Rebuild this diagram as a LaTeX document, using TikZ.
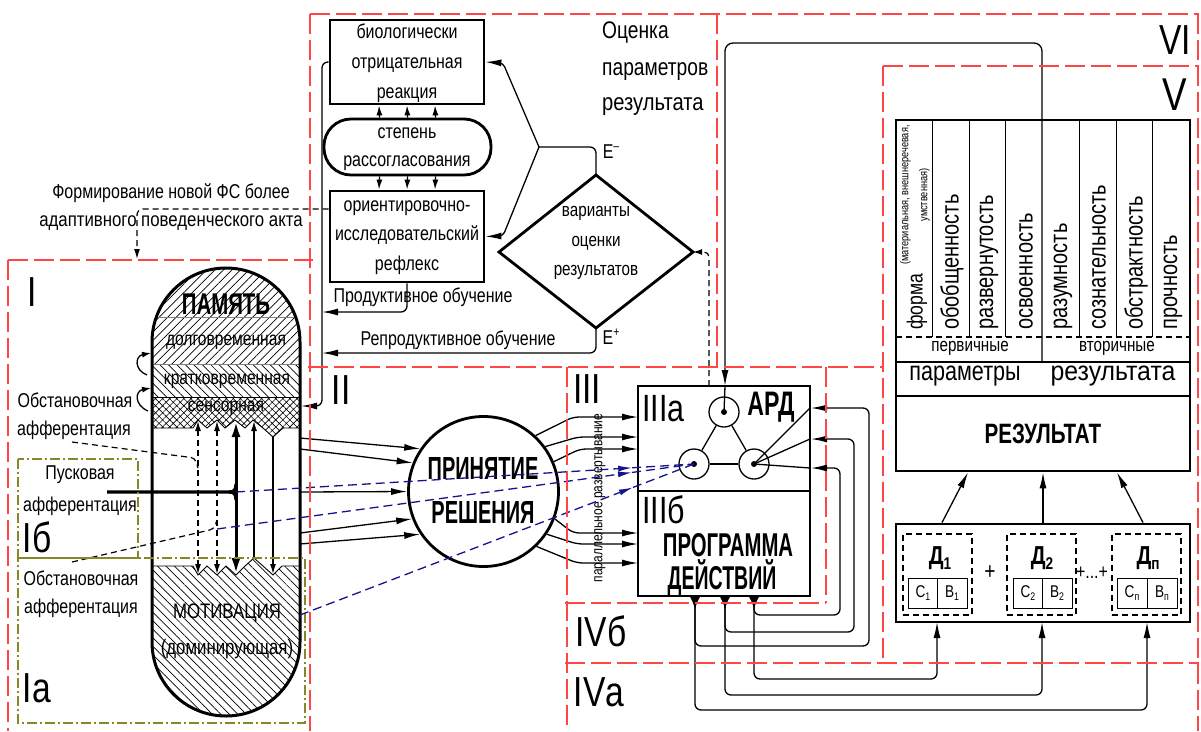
\documentclass[tikz,border=0pt]{standalone}
\usepackage{fontspec}
\setmainfont{Liberation Sans}[FakeStretch=0.8]
\usetikzlibrary{arrows.meta,patterns.meta,calc}
\definecolor{zred}{RGB}{255,70,70}
\definecolor{zblue}{RGB}{20,20,140}
\definecolor{zolive}{RGB}{135,135,40}
\newcommand\hs[2]{\scalebox{#1}[1]{#2}}
\newcommand\fsz[1]{\fontsize{#1}{#1}\selectfont}
\newcommand\fsl[2]{\fontsize{#1}{#2}\selectfont}
\begin{document}
\begin{tikzpicture}[x=1pt,y=-1pt,
  >={Latex[length=16pt,width=7pt]},
  norm/.style={line width=1.3pt},
  fine/.style={line width=0.9pt},
  heavy/.style={line width=2.8pt},
  zone/.style={draw=zred,line width=1.1pt,dash pattern=on 20pt off 6pt},
  olv/.style={draw=zolive,line width=1.3pt,dash pattern=on 10pt off 3pt on 2pt off 3pt},
  bdash/.style={draw=zblue,line width=1.3pt,dash pattern=on 9pt off 5pt},
  kdash/.style={line width=1.2pt,dash pattern=on 6pt off 4pt},
  smallarr/.style={>={Latex[length=10pt,width=6pt]}},
  lb/.style={inner sep=0pt,font=\fsz{20}},
  rom/.style={inner sep=0pt,font=\fsz{42}},
  box/.style={draw,line width=2.8pt,inner sep=0pt},
  vtxt/.style={inner sep=0pt,font=\fsz{25},rotate=90,anchor=west},
]
\useasboundingbox (0,0) rectangle (1201,731);
\fill[white] (0,0) rectangle (1201,731);

% ================= capsule (memory / motivation)
\def\capsule{(152,342) .. controls (152,301.1) and (185.1,268) .. (226,268) .. controls (266.9,268) and (300,301.1) .. (300,342) -- (300,642) .. controls (300,682.9) and (266.9,716) .. (226,716) .. controls (185.1,716) and (152,682.9) .. (152,642) -- cycle}
\begin{scope}
\clip \capsule;
\fill[pattern={Lines[angle=45,distance=6pt,line width=0.7pt]}] (140,260) rectangle (310,364);
\fill[pattern={Lines[angle=-45,distance=6pt,line width=0.7pt]}] (140,364) rectangle (310,397);
\fill[pattern={Hatch[angle=45,distance=5pt,line width=0.6pt]}] (140,397) -- (310,397) -- (310,428) -- (283,428) -- (273,437) -- (263,428) -- (253,420) -- (245,428) -- (235,420) -- (225,428) -- (217,420) -- (207,428) -- (198,420) -- (193,428) -- (140,428) -- cycle;
\fill[pattern={Lines[angle=-45,distance=6pt,line width=0.7pt]}] (140,566) -- (193,566) -- (198,575) -- (207,566) -- (217,575) -- (226,566) -- (236,575) -- (245,566) -- (254,558) -- (263,566) -- (273,575) -- (282,566) -- (310,566) -- (310,730) -- (140,730) -- cycle;
\draw[fine,gray] (140,317) -- (310,317);
\draw[fine,gray] (140,364) -- (310,364);
\draw[fine] (140,397) -- (310,397);
\draw[fine] (140,428) -- (193,428) -- (198,420) -- (207,428) -- (217,420) -- (225,428) -- (235,420) -- (245,428) -- (253,420) -- (263,428) -- (273,437) -- (283,428) -- (310,428);
\draw[fine] (140,566) -- (193,566) -- (198,575) -- (207,566) -- (217,575) -- (226,566) -- (236,575) -- (245,566) -- (254,558) -- (263,566) -- (273,575) -- (282,566) -- (310,566);
\end{scope}
\draw[line width=3pt] \capsule;

\node[lb,font=\bfseries\fsz{30}] (pam) at (226,304) {\hs{0.85}{ПАМЯТЬ}};
\node[lb,font=\fsz{19.5}] (dolg) at (226,342) {долговременная};
\node[lb,font=\fsz{19.5}] (krat) at (227,381) {кратковременная};
\node[lb,font=\fsz{19.5}] (sens) at (226,408) {сенсорная};
\node[lb,font=\fsz{21}] (motiv) at (227,613) {МОТИВАЦИЯ};
\node[lb,font=\fsz{21}] (domin) at (227,649) {(доминирующая)};

% inner arrows of the capsule
\draw[kdash,<->,smallarr] (198,421) -- (198,574);
\draw[kdash,<->,smallarr] (217,421) -- (217,574);
\draw[line width=3pt,<->,>={Latex[length=16pt,width=9pt]}] (236,421) -- (236,574);
\draw[norm,->,smallarr] (254,558) -- (254,421);
\draw[norm,->,smallarr] (273,437) -- (273,574);

% afferentations
\coordinate (ob1) at (72,442);
\coordinate (ob2) at (72,562);
\coordinate (pusk) at (107,492);
\draw[kdash,rounded corners=4pt] (ob1) -- (195,458) -- (198,468);
\draw[kdash,rounded corners=4pt] (ob2) -- (214,529) -- (217,520);
\draw[line width=3.2pt] (pusk) -- (229,492) .. controls (234,492) and (236,490) .. (236,484);
\draw[line width=3.2pt] (229,492) .. controls (234,492) and (236,494) .. (236,500);
\draw[norm,->,>={Latex[length=9pt,width=6pt]}] (147,375) .. controls (134,370) and (135,356) .. (151,353);
\draw[norm,->,>={Latex[length=9pt,width=6pt]}] (148,411) .. controls (134,405) and (135,391) .. (151,388);

% left labels
\node[lb] (f1) at (171,193) {Формирование новой ФС более};
\node[lb] (f2) at (171,223) {\hs{1.05}{адаптивного поведенческого акта}};
\node[rom] (rI) at (32,292) {I};
\node[lb] (obs1a) at (75,400) {Обстановочная};
\node[lb] (obs1b) at (74,430) {афферентация};
\node[lb] (pu1) at (80,475) {Пусковая};
\node[lb] (pu2) at (80,506) {афферентация};
\node[rom] (rIb) at (37,537) {Iб};
\node[lb] (obs2a) at (81,578) {Обстановочная};
\node[lb] (obs2b) at (81,608) {афферентация};
\node[rom] (rIa) at (37,688) {Iа};
\draw[olv] (18,459) rectangle (138,558);
\draw[olv] (18,558) -- (305,558) -- (305,723) -- (18,723) -- cycle;

% ================= evaluation block
\node[box,minimum width=154pt,minimum height=84pt] (bio) at (407,62) {};
\node[lb,align=center,font=\fsl{20}{30}] (biot) at (407,63) {биологически\\отрицательная\\реакция};
\node[box,rounded corners=27pt,minimum width=167pt,minimum height=56pt] (deg) at (407.5,147) {};
\node[lb,align=center,font=\fsl{20}{28}] (degt) at (407,149) {степень\\рассогласования};
\node[box,minimum width=154pt,minimum height=91pt] (ref) at (407,236.5) {};
\node[lb,align=center,font=\fsl{20}{29.5}] (reft) at (407,237.5) {ориентировочно-\\исследовательский\\рефлекс};
\foreach \dx in {-28,0,28}{
  \draw[norm,->,smallarr] ($(deg.north)+(\dx,0)$) -- ($(bio.south)+(\dx,0)$);
  \draw[norm,->,smallarr] ($(deg.south)+(\dx,0)$) -- ($(ref.north)+(\dx,0)$);
}
\coordinate (dT) at (596,175);
\coordinate (dL) at (499,252);
\coordinate (dR) at (693,252);
\coordinate (dB) at (596,328);
\draw[heavy,line join=miter] (dT) -- (dR) -- (dB) -- (dL) -- cycle;
\node[lb,align=center,font=\fsl{19}{29.5}] (diat) at (596,243) {варианты\\оценки\\результатов};
\node[lb] (em) at (611,152) {E\raisebox{8pt}{\fsz{13}–}};
\node[lb] (ep) at (611,337) {E\raisebox{8pt}{\fsz{13}+}};
\node[lb,anchor=west,font=\fsz{24}] (oc1) at (602,33) {Оценка};
\node[lb,anchor=west,font=\fsz{24}] (oc2) at (602,72) {параметров};
\node[lb,anchor=west,font=\fsz{24}] (oc3) at (602,107) {\hs{1.05}{результата}};
\coordinate (br) at (539,147);
\draw[norm,rounded corners=6pt] (dT) -- (596,147) -- (br);
\draw[norm,->,rounded corners=4pt] (br) -- (503,63) -- (bio.east);
\draw[norm,->,rounded corners=4pt] (br) -- (503,236) -- (ref.east);
\coordinate (fb) at (301,406);
\draw[norm,->,rounded corners=6pt] (bio.west) -- (322,62) -- (322,406) -- (fb);
\draw[norm,->,rounded corners=6pt] (ref.south) -- (407,312) -- (322,312);
\draw[norm,->,rounded corners=6pt] (dB) -- (596,353) -- (322,353);
\node[lb] (prod) at (423,297) {Продуктивное обучение};
\node[lb] (repr) at (458,340) {Репродуктивное обучение};
\draw[kdash,->,smallarr,rounded corners=6pt] (ref.west |- 0,209) -- (137,209) -- (137,259);

% ================= decision
\node[circle,draw,line width=2.8pt,minimum size=150pt,inner sep=0pt] (dec) at (483.5,491.5) {};
\node[lb,font=\bfseries\fsz{32}] (dec1) at (483,468) {\hs{0.78}{ПРИНЯТИЕ}};
\node[lb,font=\bfseries\fsz{32}] (dec2) at (483,512) {\hs{0.78}{РЕШЕНИЯ}};
\node[rom] (rII) at (341,390) {II};
\draw[norm,->] (300,438) -- (dec.146);
\draw[norm,->] (300,449) -- (dec.158);
\draw[norm,->] (300,492) -- (dec.180);
\draw[norm,->] (300,533) -- (dec.201);
\draw[norm,->] (300,544) -- (dec.214);

% ================= III : ARD and program
\node[box,minimum width=172pt,minimum height=105pt] (ard) at (724,438.5) {};
\node[box,minimum width=172pt,minimum height=105pt] (pd) at (724,543.5) {};
\node[rom] (rIII) at (587,389) {III};
\node[lb,anchor=west,font=\fsz{38}] (r3a) at (642,409) {IIIа};
\node[lb,anchor=west,font=\fsz{38}] (r3b) at (642,510) {IIIб};
\node[lb,font=\bfseries\fsz{34}] (ardt) at (771,407) {\hs{0.85}{АРД}};
\node[lb,font=\bfseries\fsz{33}] (pd1) at (728,545) {\hs{0.77}{ПРОГРАММА}};
\node[lb,font=\bfseries\fsz{33}] (pd2) at (722,578) {\hs{0.74}{ДЕЙСТВИЙ}};
\node[lb,font=\fsz{15},rotate=90] (par) at (600,498) {параллельное развертывание};
\node[circle,draw,norm,minimum size=30pt,inner sep=0pt] (cT) at (724,412) {};
\node[circle,draw,norm,minimum size=30pt,inner sep=0pt] (cL) at (694,464) {};
\node[circle,draw,norm,minimum size=30pt,inner sep=0pt] (cR) at (754,464) {};
\foreach \c in {cT,cL,cR} \fill (\c.center) circle (3pt);
\draw[norm] (cT) -- (cL);
\draw[norm] (cT) -- (cR);
\draw[norm] (cL) -- (cR);
\foreach \yy in {408,439,468} \draw[norm] (cR.center) -- (810,\yy);
% inputs from decision
\draw[norm,->,rounded corners=6pt] (dec.47) -- (573,417) -- (638,417);
\draw[norm,->,rounded corners=6pt] (dec.36) -- (578,437) -- (638,437);
\draw[norm,->,rounded corners=6pt] (dec.23) -- (580,449) -- (638,449);
\draw[norm,->,rounded corners=6pt] (dec.339) -- (573,533) -- (638,533);
\draw[norm,->,rounded corners=6pt] (dec.326) -- (577,544) -- (638,544);
\draw[norm,->,rounded corners=6pt] (dec.314.5) -- (577,563) -- (638,563);
% blue afferent lines
\coordinate (bs1) at (236,492);
\coordinate (bs2) at (217,529);
\coordinate (bs3) at (300,615);
\coordinate (bm1) at ($(bs1)!0.865!(cL.center)$);
\coordinate (bm2) at ($(bs2)!0.87!(cL.center)$);
\coordinate (bm3) at ($(bs3)!0.845!(cL.center)$);
\draw[bdash,->,>={Latex[length=14pt,width=6pt]}] (bs1) -- (bm1);
\draw[bdash] (bm1) -- (cL.center);
\draw[bdash,->,>={Latex[length=14pt,width=6pt]}] (bs2) -- (bm2);
\draw[bdash] (bm2) -- (cL.center);
\draw[bdash,->,>={Latex[length=14pt,width=6pt]}] (bs3) -- (bm3);
\draw[bdash] (bm3) -- (cL.center);
% result feedback into ARD
\draw[norm,->,rounded corners=8pt] (1042,362) -- (1042,43) -- (725,43) -- (725,386);
\draw[norm] (725,386) -- (cT.center);
\draw[kdash,->,>={Latex[length=9pt,width=6pt]},rounded corners=5pt] (709,386) -- (709,252) -- (dR);

% ================= V : result
\draw[heavy] (896,120) rectangle (1190,396);
\node[box,minimum width=294pt,minimum height=75pt] (res) at (1043,433.5) {};
\node[lb,font=\bfseries\fsz{28}] (rest) at (1043,434) {\hs{0.92}{РЕЗУЛЬТАТ}};
\draw[norm] (896,362) -- (1190,362);
\draw[kdash] (896,337) -- (1190,337);
\foreach \x in {932,969,1005,1079,1116,1152} \draw[line width=1pt] (\x,120) -- (\x,337);
\node[vtxt,font=\fsz{22}] (c1) at (917,330) {форма};
\node[inner sep=0pt,font=\fsl{11.5}{19},rotate=90,align=center] (c1s) at (915,195) {(материальная, внешнеречевая,\\умственная)};
\node[vtxt] (c2) at (952,330) {обобщенность};
\node[vtxt] (c3) at (989,330) {развернутость};
\node[vtxt] (c4) at (1026,330) {освоенность};
\node[vtxt] (c5) at (1063,330) {разумность};
\node[vtxt] (c6) at (1099,330) {сознательность};
\node[vtxt] (c7) at (1136,330) {обстрактность};
\node[vtxt] (c8) at (1173,330) {прочность};
\node[lb,font=\fsz{19}] (perv) at (970,348) {первичные};
\node[lb,font=\fsz{19}] (vtor) at (1117,348) {вторичные};
\node[lb,font=\fsz{27}] (parm) at (965,376) {параметры};
\node[lb,font=\fsz{27}] (rezu) at (1113,376) {\hs{1.15}{результата}};

% actions
\node[box,minimum width=294pt,minimum height=98pt] (dbox) at (1043,573) {};
\node[draw,kdash,minimum width=69pt,minimum height=81pt,inner sep=0pt] (d1) at (937.5,574.5) {};
\node[draw,kdash,minimum width=69pt,minimum height=81pt,inner sep=0pt] (d2) at (1041.5,574.5) {};
\node[draw,kdash,minimum width=69pt,minimum height=81pt,inner sep=0pt] (dn) at (1146.5,574.5) {};
\node[lb,font=\bfseries\fsz{26}] (d1t) at (940,558) {Д\raisebox{-5pt}{\fsz{17}1}};
\node[lb,font=\bfseries\fsz{26}] (d2t) at (1042,558) {Д\raisebox{-5pt}{\fsz{17}2}};
\node[lb,font=\bfseries\fsz{26}] (dnt) at (1148,558) {Д\raisebox{-5pt}{\fsz{17}п}};
\draw[line width=1pt] (908,578) rectangle (967,608) (937.5,578) -- (937.5,608);
\draw[line width=1pt] (1013,578) rectangle (1072,608) (1042.5,578) -- (1042.5,608);
\draw[line width=1pt] (1117,578) rectangle (1177,608) (1147,578) -- (1147,608);
\node[lb,font=\fsz{17}] (s1) at (923,593) {С\raisebox{-3pt}{\fsz{11}1}};
\node[lb,font=\fsz{17}] (b1) at (952,593) {В\raisebox{-3pt}{\fsz{11}1}};
\node[lb,font=\fsz{17}] (s2) at (1028,593) {С\raisebox{-3pt}{\fsz{11}2}};
\node[lb,font=\fsz{17}] (b2) at (1057,593) {В\raisebox{-3pt}{\fsz{11}2}};
\node[lb,font=\fsz{17}] (sn) at (1132,593) {С\raisebox{-3pt}{\fsz{11}п}};
\node[lb,font=\fsz{17}] (bn) at (1162,593) {В\raisebox{-3pt}{\fsz{11}п}};
\node[lb,font=\fsz{24}] (pl1) at (990,573) {+};
\node[lb,font=\fsz{20}] (pl2) at (1092,573) {+...+};
\draw[norm,->] ($(dbox.north)+(-101,0)$) -- ($(res.south)+(-75,0)$);
\draw[norm,->] (dbox.north) -- (res.south);
\draw[norm,->] ($(dbox.north)+(100,0)$) -- ($(res.south)+(74,0)$);

% loops from program
\foreach \x in {695,725,754} \draw[norm,-{Latex[length=12pt,width=10pt]}] (\x,595) -- (\x,609);
\draw[norm,->,rounded corners=6pt] (754,596) -- (754,615) -- (840,615) -- (840,468) -- (811,468);
\draw[norm,->,rounded corners=6pt] (725,596) -- (725,632) -- (854,632) -- (854,439) -- (811,439);
\draw[norm,->,rounded corners=6pt] (695,596) -- (695,646) -- (869,646) -- (869,408) -- (811,408);
\draw[norm,->,rounded corners=6pt] (754,596) -- (754,679) -- (937,679) -- (937,622);
\draw[norm,->,rounded corners=6pt] (725,596) -- (725,695) -- (1042,695) -- (1042,622);
\draw[norm,->,rounded corners=6pt] (695,596) -- (695,710) -- (1147,710) -- (1147,622);

% roman labels
\node[rom] (rIVb) at (601,631) {IVб};
\node[rom] (rIVa) at (599,692) {IVа};
\node[rom] (rVI) at (1175,40) {VI};
\node[rom,font=\fsz{46}] (rV) at (1175,95) {V};

% ================= zones
\draw[zone] (310,14) -- (1199,14);
\draw[zone] (310,14) -- (310,731);
\draw[zone] (8,260) -- (313,260);
\draw[zone] (8,260) -- (8,731);
\draw[zone] (308,367) -- (883,367);
\draw[zone] (717,14) -- (717,367);
\draw[zone] (567,367) -- (567,731);
\draw[zone] (826,367) -- (826,603);
\draw[zone] (565,603) -- (826,603);
\draw[zone] (565,663) -- (1199,663);
\draw[zone] (883,66) -- (883,663);
\draw[zone] (883,66) -- (1199,66);
\draw[zone] (1198,14) -- (1198,731);
\end{tikzpicture}
\end{document}
